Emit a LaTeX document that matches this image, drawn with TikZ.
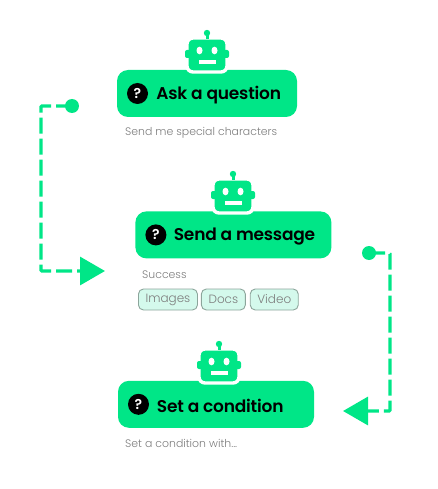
\documentclass[tikz,border=0pt]{standalone}
\usepackage{fontspec}
\setmainfont{Poppins}
\newfontfamily\titlefont{Poppins SemiBold}
\newfontfamily\lightfont{Poppins Light}
\usetikzlibrary{arrows.meta, positioning, calc}
\definecolor{botgreen}{RGB}{0,230,135}
\definecolor{chipmint}{RGB}{212,249,236}
\definecolor{chipline}{RGB}{140,165,155}
\definecolor{capgray}{RGB}{125,125,125}

\begin{document}
\begin{tikzpicture}[
  x=1pt, y=-1pt,
  boxnode/.style  = {rectangle, rounded corners=11pt, fill=botgreen, minimum height=47pt, inner sep=0pt},
  helpnode/.style = {circle, fill=black, text=white, minimum size=21pt, inner sep=0pt,
                  font=\titlefont\fontsize{14}{14}\selectfont},
  titlenode/.style= {inner sep=0pt, text=black, yshift=-1.5pt, font=\titlefont\fontsize{17}{20}\selectfont\addfontfeature{LetterSpace=-1.2}},
  capnode/.style  = {inner sep=0pt, text=capgray, yshift=-0.5pt, font=\lightfont\fontsize{10.9}{14}\selectfont},
  chipnode/.style = {rectangle, rounded corners=5pt, fill=chipmint, draw=chipline, line width=0.9pt,
                  minimum height=21pt, inner sep=0pt, text=capgray, font=\lightfont\fontsize{12}{14}\selectfont},
  dotnode/.style  = {circle, fill=botgreen, minimum size=14pt, inner sep=0pt},
  arr/.style      = {-{Triangle[length=25pt,width=28pt]}, botgreen, line width=3.2pt,
                  dash pattern=on 16pt off 5pt, rounded corners=1pt},
  botpic/.pic = {
    % white ring cuts the body out of the box
    \draw[white, fill=botgreen, line width=3.4pt, rounded corners=6pt] (-20,-32) rectangle (20,2);
    \fill[botgreen] (0,-37) circle (3.2);
    \fill[botgreen] (-1.5,-37) rectangle (1.5,-31);
    \fill[botgreen, rounded corners=2pt] (-22,-20) rectangle (22,-12);
    \fill[white] (-7.5,-19.5) ellipse (3 and 3.8);
    \fill[white] (7.5,-19.5) ellipse (3 and 3.8);
    \fill[white] (-8.5,-10) rectangle (8.5,-6);
  },
]
\useasboundingbox (0,0) rectangle (437,489);

%% Boxes
\node[boxnode, minimum width=180pt] (ask) at (207,93.5) {};
\node[boxnode, minimum width=196pt, below right=94pt and -162pt of ask] (send) {};
\node[boxnode, minimum width=196pt, below left=122pt and -179pt of send] (cond) {};

%% Bots over the boxes
\path (207,70) pic {botpic};
\path (233,211) pic {botpic};
\path (219,381) pic {botpic};

%% Titles
\node[helpnode, right=10pt of ask.west] (askhelp) {?};
\node[titlenode, right=8pt of askhelp] (asktitle) {Ask a question};
\node[helpnode, right=10pt of send.west] (sendhelp) {?};
\node[titlenode, right=7pt of sendhelp] (sendtitle) {Send a message};
\node[helpnode, right=10pt of cond.west] (condhelp) {?};
\node[titlenode, right=7.5pt of condhelp] (condtitle) {Set a condition};

%% Captions
\node[capnode, anchor=west] (askcap) at (125,132) {Send me special characters};
\node[capnode, anchor=west] (sendcap) at (142,274) {Success};
\node[capnode, anchor=west] (condcap) at (125,443) {Set a condition with...};

%% Chips
\node[chipnode, minimum width=59pt, anchor=west] (images) at (138,299.5) {Images};
\node[chipnode, minimum width=44pt, right=3pt of images] (docs) {Docs};
\node[chipnode, minimum width=48pt, right=4pt of docs] (video) {Video};

%% Connectors
\node[dotnode] (askdot) at (72,106) {};
\node[dotnode] (conddot) at (369,253) {};
\coordinate (sendin) at (105,271);
\coordinate (condin) at (343,411);

\draw[arr] (askdot.center) -- (41,106) -- (41,271) -- (sendin);
\draw[arr] (conddot.center) -- (390,253) -- (390,411) -- (condin);

\end{tikzpicture}
\end{document}
